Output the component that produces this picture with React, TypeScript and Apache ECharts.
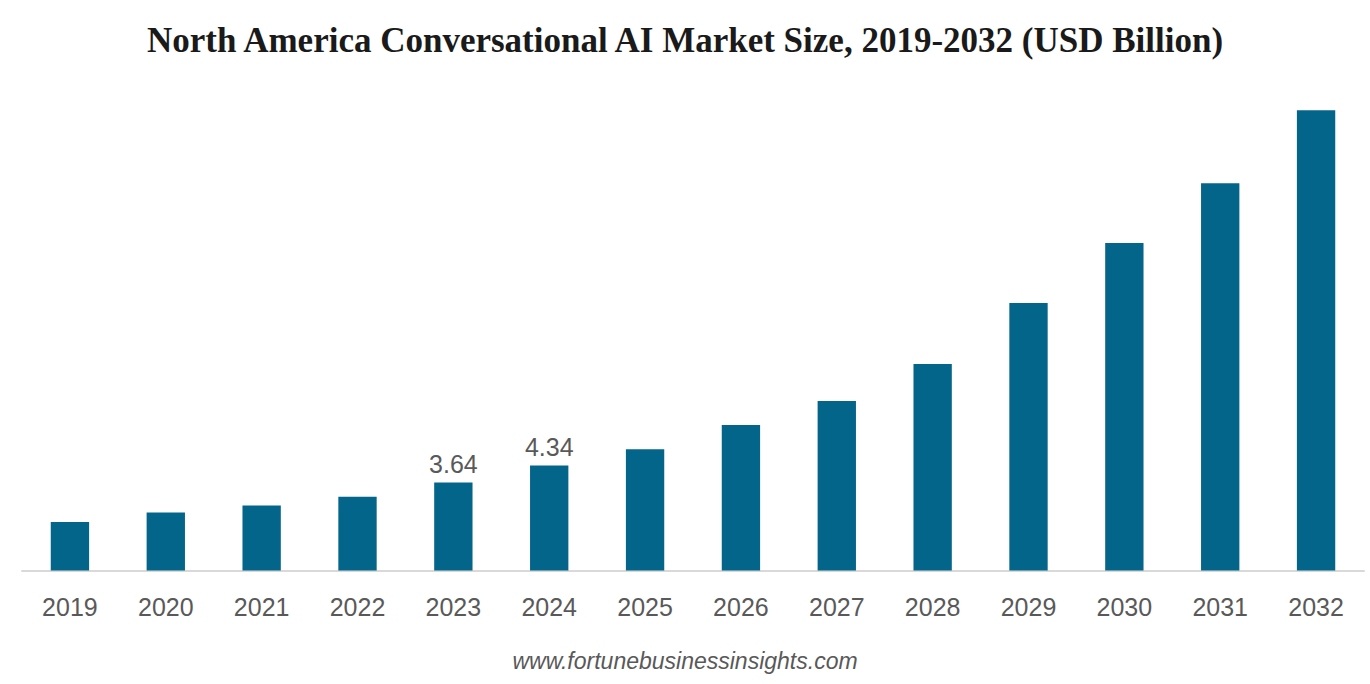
import React, { useEffect, useRef } from "react";
import * as echarts from "echarts";

const years = ["2019", "2020", "2021", "2022", "2023", "2024", "2025", "2026", "2027", "2028", "2029", "2030", "2031", "2032"];
const marketSize = [2.0, 2.4, 2.69, 3.05, 3.64, 4.34, 5.01, 6.01, 7.0, 8.53, 11.05, 13.53, 16.0, 19.02];
const labeledYears = ["2023", "2024"];

const titleText = "North America Conversational AI Market Size, 2019-2032 (USD Billion)";
const sourceText = "www.fortunebusinessinsights.com";

export default function App() {
  const ref = useRef<HTMLDivElement>(null);

  useEffect(() => {
    if (!ref.current) return;
    const chart = echarts.init(ref.current, null, { renderer: "svg" });
    chart.setOption({
      animation: false,
      backgroundColor: "#ffffff",
      title: {
        text: titleText,
        left: "center",
        top: 18,
        textStyle: {
          fontFamily: "Liberation Serif",
          fontWeight: "bold",
          fontSize: 35,
          color: "#1a1a1a",
        },
      },
      graphic: [
        {
          type: "text",
          left: "center",
          top: 649,
          style: {
            text: sourceText,
            font: "italic 23px 'Liberation Sans'",
            fill: "#595959",
          },
        },
      ],
      grid: { left: 22, right: 6, top: 86.5, bottom: 113.5, containLabel: false },
      xAxis: {
        type: "category",
        data: years,
        axisLine: { show: true, lineStyle: { color: "#d9d9d9", width: 2 } },
        axisTick: { show: false },
        axisLabel: {
          color: "#595959",
          fontFamily: "Liberation Sans",
          fontSize: 25,
          margin: 24,
        },
      },
      yAxis: {
        type: "value",
        min: 0,
        max: 20,
        show: false,
        splitLine: { show: false },
      },
      series: [
        {
          type: "bar",
          barWidth: "40%",
          itemStyle: { color: "#04658b" },
          data: marketSize.map((v, i) => ({
            value: v,
            label: {
              show: labeledYears.includes(years[i]),
              position: "top",
              distance: 6,
              color: "#595959",
              fontFamily: "Liberation Sans",
              fontSize: 25,
              formatter: (p: any) => Number(p.value).toFixed(2),
            },
          })),
        },
      ],
    });
    return () => chart.dispose();
  }, []);

  return (
    <div
      ref={ref}
      style={{ position: "fixed", left: 0, top: 0, width: 1370, height: 684 }}
    />
  );
}
